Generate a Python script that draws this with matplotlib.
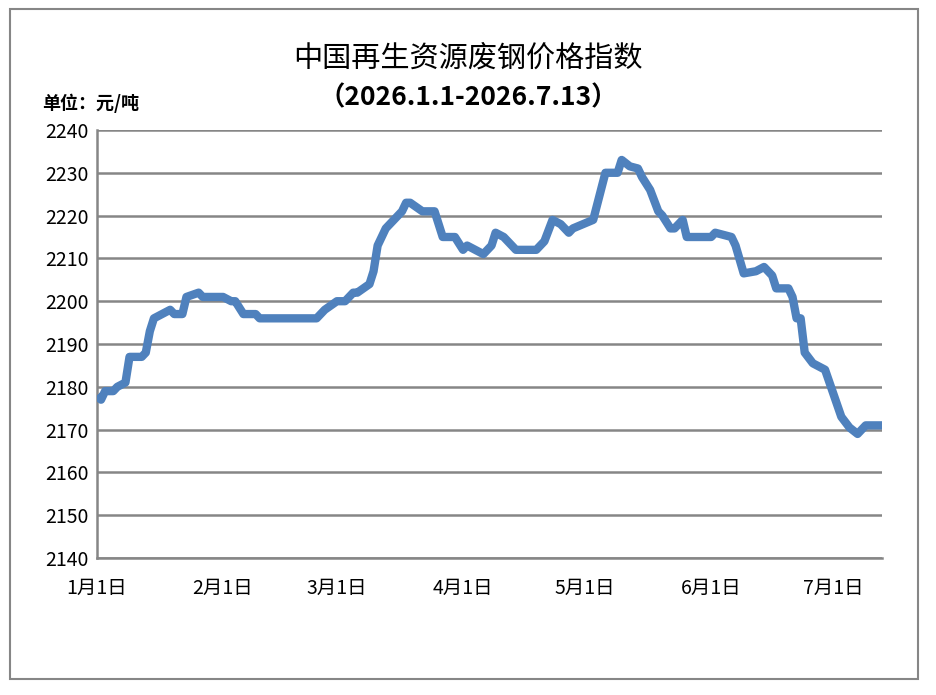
import numpy as np
import pandas as pd
import matplotlib.pyplot as plt
from matplotlib.patches import Rectangle

plt.rcParams['font.family'] = ['Noto Sans CJK SC', 'DejaVu Sans']

# (breakpoints of the index line)
dates = ['2026-01-01', '2026-01-02', '2026-01-03', '2026-01-05', '2026-01-06', '2026-01-08',
         '2026-01-09', '2026-01-12', '2026-01-13', '2026-01-14', '2026-01-15', '2026-01-19',
         '2026-01-20', '2026-01-22', '2026-01-23', '2026-01-26', '2026-01-27', '2026-02-01',
         '2026-02-03', '2026-02-04', '2026-02-06', '2026-02-09', '2026-02-10', '2026-02-24',
         '2026-02-26', '2026-03-01', '2026-03-03', '2026-03-05', '2026-03-06', '2026-03-09',
         '2026-03-10', '2026-03-11', '2026-03-13', '2026-03-16', '2026-03-17', '2026-03-18',
         '2026-03-19', '2026-03-22', '2026-03-25', '2026-03-27', '2026-03-30', '2026-04-01',
         '2026-04-02', '2026-04-06', '2026-04-08', '2026-04-09', '2026-04-11', '2026-04-13',
         '2026-04-14', '2026-04-19', '2026-04-21', '2026-04-23', '2026-04-25', '2026-04-27',
         '2026-04-28', '2026-05-03', '2026-05-06', '2026-05-09', '2026-05-10', '2026-05-12',
         '2026-05-14', '2026-05-15', '2026-05-17', '2026-05-19', '2026-05-20', '2026-05-22',
         '2026-05-23', '2026-05-25', '2026-05-26', '2026-06-01', '2026-06-02', '2026-06-04',
         '2026-06-06', '2026-06-07', '2026-06-09', '2026-06-12', '2026-06-14', '2026-06-16',
         '2026-06-17', '2026-06-20', '2026-06-21', '2026-06-22', '2026-06-23', '2026-06-24',
         '2026-06-26', '2026-06-29', '2026-07-03', '2026-07-05', '2026-07-07', '2026-07-09',
         '2026-07-13']
values = [2178, 2177, 2179, 2179, 2180, 2181,
          2187, 2187, 2188, 2193, 2196, 2198,
          2197, 2197, 2201, 2202, 2201, 2201,
          2200, 2200, 2197, 2197, 2196, 2196,
          2198, 2200, 2200, 2202, 2202, 2204,
          2207, 2213, 2217, 2220, 2221, 2223,
          2223, 2221, 2221, 2215, 2215, 2212,
          2213, 2211, 2213, 2216, 2215, 2213,
          2212, 2212, 2214, 2219, 2218, 2216,
          2217, 2219, 2230, 2230, 2233, 2231.5,
          2231, 2229, 2226, 2221, 2220, 2217,
          2217, 2219, 2215, 2215, 2216, 2215.5,
          2215, 2213, 2206.5, 2207, 2208, 2206,
          2203, 2203, 2201, 2196, 2196, 2188,
          2185.5, 2184, 2173, 2170.5, 2169, 2171,
          2171]

tick_dates = ['2026-01-01', '2026-02-01', '2026-03-01', '2026-04-01',
              '2026-05-01', '2026-06-01', '2026-07-01']
tick_labels = ['1月1日', '2月1日', '3月1日', '4月1日', '5月1日', '6月1日', '7月1日']

x = pd.to_datetime(dates)

fig = plt.figure(figsize=(9.36, 6.95), dpi=100)
ax = fig.add_axes([0.1036, 0.197, 0.8387, 0.616])

ax.plot(x, values, color='#4F81BD', linewidth=6, solid_joinstyle='round',
        solid_capstyle='butt', zorder=3)

ax.set_ylim(2140, 2240)
ax.set_yticks(np.arange(2140, 2241, 10))
ax.set_xlim(pd.Timestamp('2026-01-01'), pd.Timestamp('2026-07-13'))
ax.set_xticks(pd.to_datetime(tick_dates))
ax.set_xticklabels(tick_labels)

ax.grid(axis='y', color='#868686', linewidth=1.8)
ax.set_axisbelow(True)
for s in ['top', 'right']:
    ax.spines[s].set_visible(False)
for s in ['left', 'bottom']:
    ax.spines[s].set_color('#868686')
    ax.spines[s].set_linewidth(1.8)
ax.tick_params(length=0, labelsize=14, pad=6)
ax.tick_params(axis='x', pad=14)

fig.text(0.5, 0.916, '中国再生资源废钢价格指数', ha='center', va='center',
         fontsize=21, fontweight='medium')
fig.text(0.5, 0.859, '（2026.1.1-2026.7.13）', ha='center', va='center',
         fontsize=19, fontweight='bold')
fig.text(0.045, 0.851, '单位：元/吨', ha='left', va='center', fontsize=13, fontweight='bold')

fig.patches.append(Rectangle((0.011, 0.023), 0.970, 0.964, transform=fig.transFigure,
                             fill=False, edgecolor='#868686', linewidth=1.5))

plt.savefig('out.png', dpi=100)
